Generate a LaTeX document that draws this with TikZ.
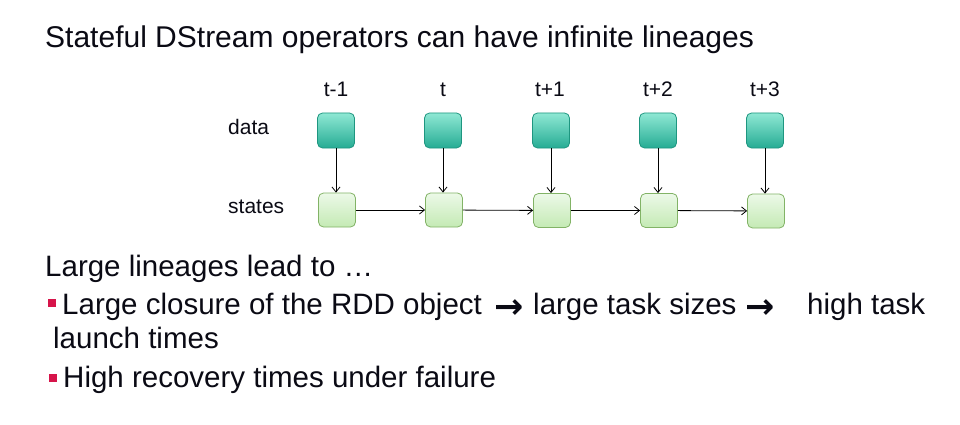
\documentclass[tikz,border=0pt]{standalone}
\usepackage{fontspec}
\setmainfont{Liberation Sans}
\newfontfamily\arrowfont{DejaVu Sans}
\usetikzlibrary{arrows.meta}
\definecolor{datatop}{RGB}{143,232,212}
\definecolor{databot}{RGB}{38,172,148}
\definecolor{databorder}{RGB}{30,150,128}
\definecolor{statetop}{RGB}{236,249,232}
\definecolor{statebot}{RGB}{196,234,180}
\definecolor{stateborder}{RGB}{130,179,102}
\definecolor{bulletred}{RGB}{214,20,74}
\definecolor{txt}{RGB}{10,10,20}
\begin{document}
\begin{tikzpicture}[x=1pt,y=-1pt,
  title/.style={anchor=base west, inner sep=0pt, text=txt, font=\fontsize{30}{36}\selectfont},
  body/.style={anchor=base west, inner sep=0pt, text=txt, font=\fontsize{29.5}{35}\selectfont},
  barrow/.style={anchor=base, inner sep=0pt, text=txt, font=\arrowfont\bfseries\fontsize{35}{40}\selectfont},
  lab/.style={inner sep=0pt, text=txt, font=\fontsize{21}{25}\selectfont},
  databox/.style={rounded corners=5pt, minimum width=37pt, minimum height=35pt, draw=databorder, top color=datatop, bottom color=databot, line width=0.8pt},
  statebox/.style={rounded corners=5pt, minimum width=37pt, minimum height=34pt, draw=stateborder, top color=statetop, bottom color=statebot, line width=0.8pt},
  arr/.style={draw=black, line width=0.8pt, -{Straight Barb[length=5pt,width=8pt]}},
  bulletsq/.style={fill=bulletred, minimum size=8pt, inner sep=0pt}
]
\useasboundingbox[fill=white] (0,0) rectangle (960,425);

\node[title] (ttl) at (45,48) {Stateful DStream operators can have infinite lineages};

% time labels
\node[lab, anchor=base] (tl1) at (336,97) {t-1};
\node[lab, anchor=base] (tl2) at (443,97) {t};
\node[lab, anchor=base] (tl3) at (550,97) {t+1};
\node[lab, anchor=base] (tl4) at (658,97) {t+2};
\node[lab, anchor=base] (tl5) at (765,97) {t+3};

\node[lab, anchor=base west] (ldata) at (228,134) {data};
\node[lab, anchor=base west] (lstates) at (228,213) {states};

% data boxes
\node[databox] (d1) at (336,130.5) {};
\node[databox] (d2) at (443,130.5) {};
\node[databox] (d3) at (551,130.5) {};
\node[databox] (d4) at (658,130.5) {};
\node[databox] (d5) at (765,130.5) {};

% state boxes
\node[statebox] (s1) at (337,210) {};
\node[statebox] (s2) at (444,210) {};
\node[statebox] (s3) at (552,210.5) {};
\node[statebox] (s4) at (659,210.5) {};
\node[statebox] (s5) at (766,211) {};

\foreach \i in {1,...,5} {\draw[arr] (d\i) -- (d\i |- s\i.north);}
\draw[arr] (s1) -- (s2);
\draw[arr] (s2) -- (s3);
\draw[arr] (s3) -- (s4);
\draw[arr] (s4) -- (s5);

% text
\node[body] (lead) at (45,276) {Large lineages lead to …};
\node[bulletsq] (b1) at (52,303) {};
\node[body] (l1a) at (62,314) {Large closure of the RDD object};
\node[barrow] (a1) at (509,318) {→};
\node[body] (l1b) at (533,314) {large task sizes};
\node[barrow] (a2) at (760,318) {→};
\node[body] (l1c) at (807,314) {high task};
\node[body] (l1d) at (53,348) {launch times};
\node[bulletsq] (b2) at (53,378) {};
\node[body] (l2) at (63,387) {High recovery times under failure};
\end{tikzpicture}
\end{document}
